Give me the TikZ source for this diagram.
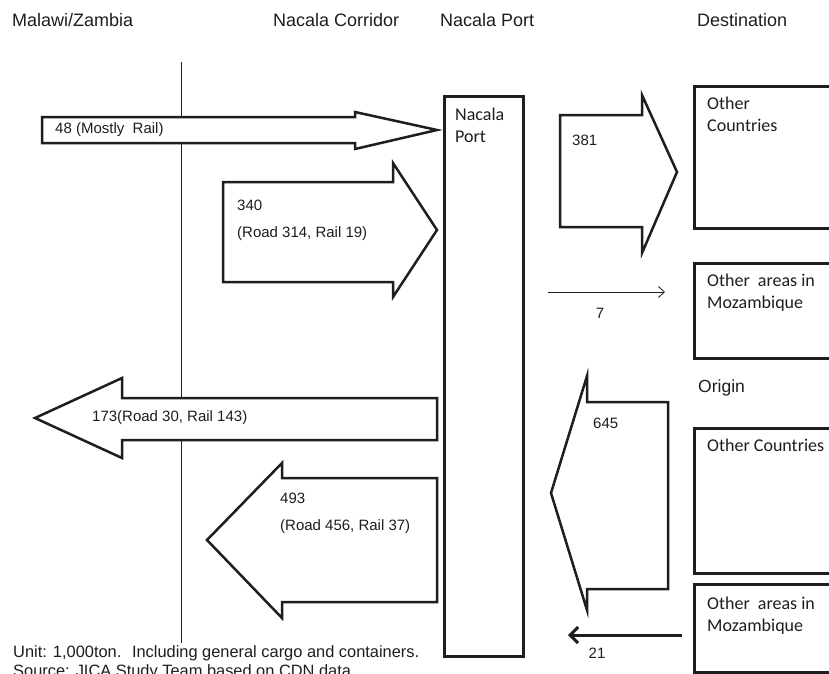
\documentclass[tikz,border=0pt]{standalone}
\usepackage{fontspec}
\setmainfont{Liberation Sans}
\newfontfamily\boxfont{Carlito}
\usepackage{tikz}
\usetikzlibrary{arrows.meta}
\definecolor{ink}{HTML}{1E1E1E}
\tikzset{
  every node/.style={text=ink,inner sep=0pt},
  head/.style={anchor=west,font=\fontsize{18}{22}\selectfont},
  lbl/.style={anchor=west,font=\fontsize{15}{18}\selectfont},
  lbltwo/.style={anchor=north west,align=left,font=\fontsize{15}{27}\selectfont},
  notetext/.style={anchor=west,font=\fontsize{16.4}{20}\selectfont},
  region/.style={draw=ink,line width=3pt,anchor=north west},
  regtext/.style={anchor=north west,align=left,font=\boxfont\fontsize{18}{22}\selectfont},
  fat/.style={draw=ink,line width=2.5pt,line join=miter,fill=white},
  thinarr/.style={-{Straight Barb[length=6pt,width=11pt]},draw=ink,line width=0.8pt},
  boldarr/.style={-{Straight Barb[length=8pt,width=16pt]},draw=ink,line width=3pt},
  border/.style={draw=ink,line width=0.9pt}
}

\begin{document}
\begin{tikzpicture}[x=1pt,y=-1pt]
  \useasboundingbox[fill=white] (0,0) rectangle (829,673);
  \foreach \x/\name/\txt in {12/hMZ/{Malawi/Zambia},273/hCorr/{Nacala Corridor},440/hPort/{Nacala Port},697/hDest/{Destination}} {
    \node[head] (\name) at (\x,20) {\txt};
  }
  \coordinate (bTop) at (181,62);
  \coordinate (bBot) at (181,643);
  \draw[border] (bTop) -- (bBot);

  \node[region,minimum width=79pt,minimum height=560pt] (port) at (443,95) {};
  \node[regtext] (portTxt) at (455,108) {Nacala\\Port};

  \node[region,minimum width=136pt,minimum height=142pt] (dstOther) at (693,85) {};
  \node[regtext] (dstOtherTxt) at (707,97) {Other\\Countries};
  \node[region,minimum width=136pt,minimum height=95pt] (dstMoz) at (693,262) {};
  \node[regtext] (dstMozTxt) at (707,274) {Other~ areas in\\Mozambique};
  \node[head,font=\fontsize{17.5}{22}\selectfont] (hOrig) at (698,388) {Origin};
  \node[region,minimum width=136pt,minimum height=145pt] (orgOther) at (693,427) {};
  \node[regtext] (orgOtherTxt) at (707,439) {Other Countries};
  \node[region,minimum width=136pt,minimum height=88pt] (orgMoz) at (693,583) {};
  \node[regtext] (orgMozTxt) at (707,597) {Other~ areas in\\Mozambique};

  \draw[fat] (42,117) -- (355,117) -- (355,112) -- (437,130) -- (355,149) -- (355,143) -- (42,143) -- cycle;
  \node[lbl] (l48) at (55,130) {48 (Mostly~ Rail)};
  \draw[fat] (223,182) -- (393,182) -- (393,163) -- (437,230) -- (393,297) -- (393,282) -- (223,282) -- cycle;
  \node[lbltwo] (l340) at (237,199.5) {340\\(Road 314, Rail 19)};
  \draw[fat] (437,398) -- (122,398) -- (122,378) -- (35,418) -- (122,458) -- (122,440) -- (437,440) -- cycle;
  \node[lbl] (l173) at (92,418) {173(Road 30, Rail 143)};
  \draw[fat] (437,478) -- (282,478) -- (282,463) -- (207,540) -- (282,618) -- (282,602) -- (437,602) -- cycle;
  \node[lbltwo] (l493) at (280,492.5) {493\\(Road 456, Rail 37)};

  \draw[fat] (560,115) -- (642,115) -- (642,95) -- (677,172) -- (642,253) -- (642,227) -- (560,227) -- cycle;
  \node[lbl] (l381) at (572,140) {381};
  \draw[fat] (668,402) -- (587,402) -- (587,376) -- (551,493) -- (587,610) -- (587,589) -- (668,589) -- cycle;
  \node[lbl] (l645) at (593,423) {645};

  \coordinate (s7) at (548,292);
  \coordinate (e7) at (665,292);
  \draw[thinarr] (s7) -- (e7);
  \node[lbl,anchor=center] (l7) at (600,313) {7};
  \coordinate (s21) at (682,635);
  \coordinate (e21) at (568,635);
  \draw[boldarr] (s21) -- (e21);
  \node[lbl,anchor=center] (l21) at (597,653) {21};

  \node[notetext] (unit) at (13,653) {Unit: 1,000ton.~ Including general cargo and containers.};
  \node[notetext] (src) at (13,672) {Source: JICA Study Team based on CDN data};
\end{tikzpicture}
\end{document}
